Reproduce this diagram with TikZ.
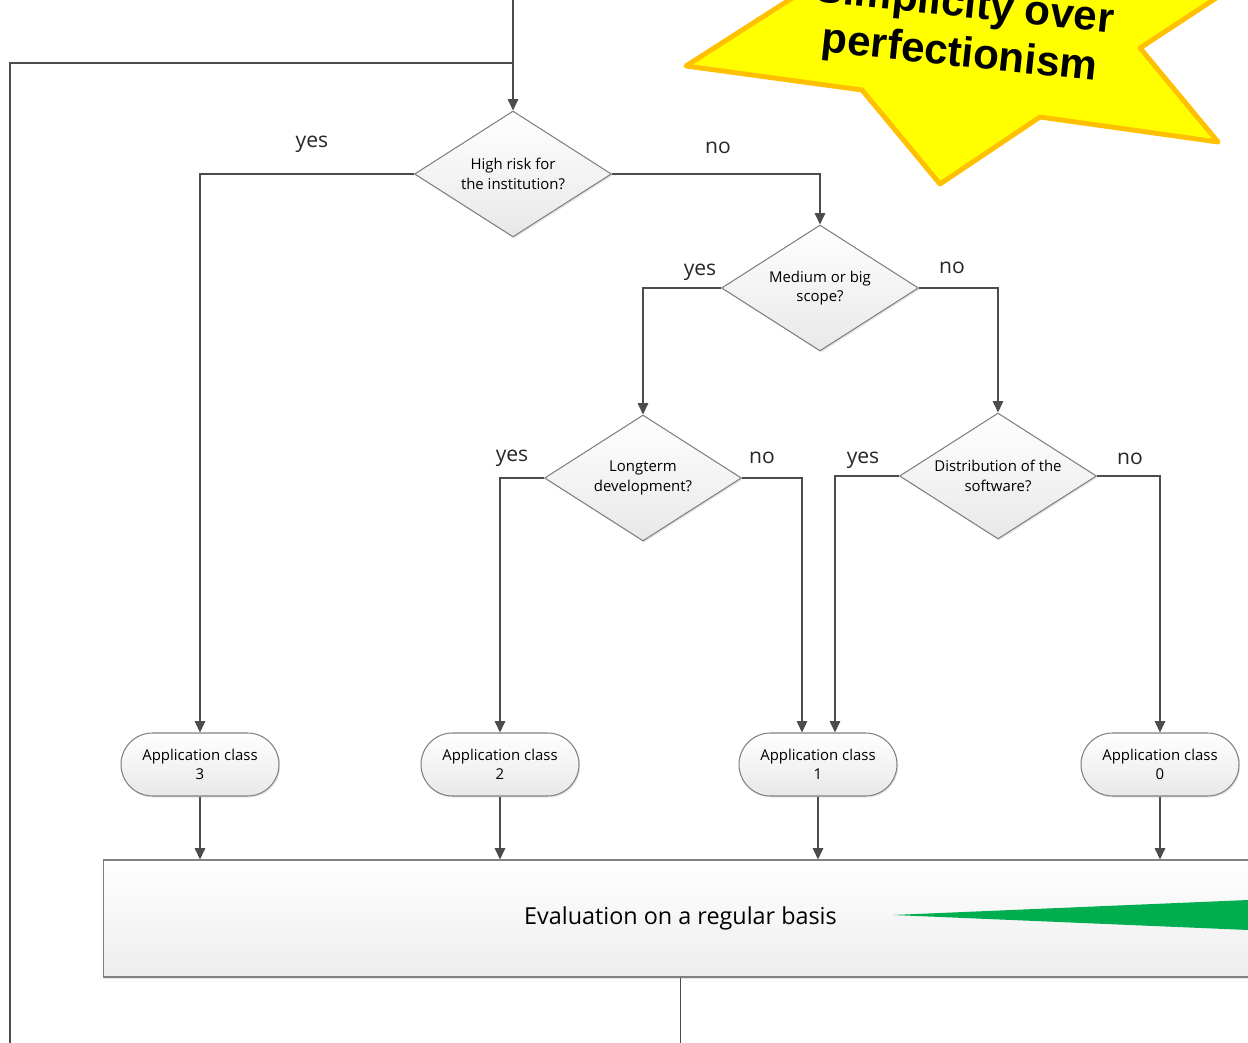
\documentclass[tikz,border=0pt]{standalone}
\usepackage{fontspec}
\setmainfont{Open Sans}
\newfontfamily\starfont{Liberation Sans}
\usetikzlibrary{shapes.geometric,shapes.misc,arrows.meta,shadows}
\definecolor{starfill}{RGB}{255,255,0}
\definecolor{starrim}{RGB}{255,192,0}
\definecolor{wedgegreen}{RGB}{0,174,80}

\begin{document}
\begin{tikzpicture}[x=0.02cm,y=-0.02cm,
	line/.style={draw=black!70, line width=0.75pt},
	arrow/.style={line, -{Triangle[width=6pt,length=6.5pt]}},
	softshadow/.style={drop shadow={shadow xshift=0.7pt,shadow yshift=-0.9pt,opacity=0.2}},
	decision/.style={diamond, aspect=1.56, draw=black!50, line width=0.6pt, top color=white, bottom color=black!9, softshadow, minimum width=3.94cm, minimum height=2.52cm, inner sep=0pt, align=center, font=\fontsize{8.5}{11}\selectfont},
	terminal/.style={rounded rectangle, draw=black!50, line width=0.6pt, top color=white, bottom color=black!9, softshadow, minimum width=3.16cm, minimum height=1.26cm, inner sep=0pt, align=center, font=\fontsize{8.5}{11}\selectfont},
	evalbox/.style={rectangle, draw=black!50, line width=0.6pt, top color=white, bottom color=black!7, softshadow, minimum width=23.1cm, minimum height=2.34cm, font=\fontsize{13.3}{15}\selectfont},
	answer/.style={font=\fontsize{12}{14}\selectfont, text=black!85}]
	\path[use as bounding box, clip] (0,0) rectangle (1248,1043);
	\coordinate (entry) at (513,0);
	\coordinate (merge) at (513,63);
	\coordinate (loopstart) at (10,1043);
	\coordinate (exit) at (681,1043);
	\node[decision] (risk) at (513,174) {High risk for\\the institution?};
	\node[decision] (scope) at (820,288) {Medium or big\\scope?};
	\node[decision] (longterm) at (643,478) {Longterm\\development?};
	\node[decision] (distribution) at (998,476) {Distribution of the\\software?};
	\node[terminal] (class3) at (200,764.5) {Application class\\3};
	\node[terminal] (class2) at (500,764.5) {Application class\\2};
	\node[terminal] (class1) at (818,764.5) {Application class\\1};
	\node[terminal] (class0) at (1160,764.5) {Application class\\0};
	\node[evalbox] (evaluation) at (680.5,918.5) {Evaluation on a regular basis};
	\node[answer] (riskyes) at (312,144) {yes};
	\node[answer] (riskno) at (718,148) {no};
	\node[answer] (scopeyes) at (700,272) {yes};
	\node[answer] (scopeno) at (952,268) {no};
	\node[answer] (longtermyes) at (512,458) {yes};
	\node[answer] (longtermno) at (762,458) {no};
	\node[answer] (distributionyes) at (863,460) {yes};
	\node[answer] (distributionno) at (1130,459) {no};
	\draw[arrow] (entry) -- (risk.north);
	\draw[line] (loopstart) |- (merge);
	\draw[arrow] (risk.west) -| (class3.north);
	\draw[arrow] (risk.east) -| (scope.north);
	\draw[arrow] (scope.west) -| (longterm.north);
	\draw[arrow] (scope.east) -| (distribution.north);
	\draw[arrow] (longterm.west) -| (class2.north);
	\draw[arrow] (longterm.east) -| ([xshift=-0.32cm]class1.north);
	\draw[arrow] (distribution.west) -| ([xshift=0.34cm]class1.north);
	\draw[arrow] (distribution.east) -| (class0.north);
	\foreach \n in {class3,class2,class1,class0}
		\draw[arrow] (\n.south) -- (\n.south |- evaluation.north);
	\draw[line] (evaluation.south) -- (evaluation.south |- exit);
	\fill[wedgegreen] (893,915) -- (1260,899.5) -- (1260,930.5) -- cycle;
	\draw[starrim, fill=starfill, line width=2.8pt, line join=round]
		(686,66) -- (862,90) -- (940,184) -- (1040,117) -- (1218,142) -- (1140,48)
		-- (1320,-70) -- (1100,-100) -- (1000,-200) -- (900,-100) -- (836,-30) -- cycle;
	\node[rotate=-6, align=center, font=\starfont\bfseries\fontsize{24}{28}\selectfont] (motto) at (962,31) {Simplicity over\\perfectionism};
\end{tikzpicture}
\end{document}
